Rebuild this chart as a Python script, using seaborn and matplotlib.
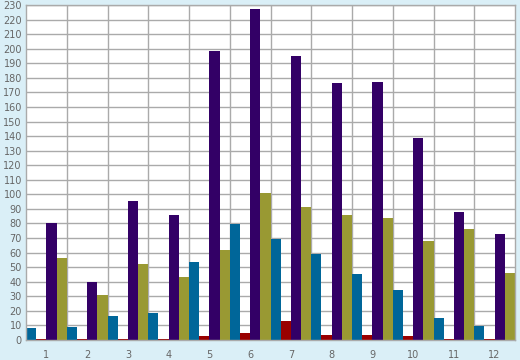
import numpy as np
import pandas as pd
import matplotlib
matplotlib.use("Agg")
import matplotlib.pyplot as plt
import seaborn as sns

categories = ["1", "2", "3", "4", "5", "6", "7", "8", "9", "10", "11", "12"]
series_names = ["S1", "S2", "S3", "S4"]
s1_blue = [8.4, 9.2, 16.7, 18.8, 53.6, 79.9, 69.6, 59.3, 45.3, 34.3, 15.1, 9.8]
s2_red = [0.6, 0.6, 0.6, 0.6, 3.0, 4.8, 13.0, 3.7, 3.7, 3.0, 0.6, 0.6]
s3_purple = [80.5, 40.0, 95.7, 86.0, 198.4, 227.3, 195.0, 176.5, 177.1, 138.9, 87.9, 72.8]
s4_olive = [56.5, 31.0, 52.4, 43.5, 61.8, 100.9, 91.3, 86.0, 83.8, 68.0, 76.2, 46.0]
colors = ["#006699", "#990000", "#330066", "#999933"]

rows = []
for name, vals in zip(series_names, [s1_blue, s2_red, s3_purple, s4_olive]):
    for c, v in zip(categories, vals):
        rows.append({"cat": c, "series": name, "value": v})
df = pd.DataFrame(rows)

sns.set_style("white")
plt.rcParams['font.family'] = ['DejaVu Sans']

fig = plt.figure(figsize=(5.2, 3.6), dpi=100)
fig.patch.set_facecolor("#DAEFF7")
ax = fig.add_axes([26/520, 20/360, 489/520, 335/360])
ax.set_facecolor("white")

sns.barplot(data=df, x="cat", y="value", hue="series", order=categories,
            hue_order=series_names, palette=colors, width=1.0, gap=0,
            saturation=1, linewidth=0, errorbar=None, legend=False, ax=ax)

gridc = "#AAAAAA"
ax.set_xlim(-0.5, len(categories) - 0.5)
ax.set_ylim(0, 230)
ax.set_yticks(np.arange(0, 231, 10))
ax.set_xticks(np.arange(len(categories)))
ax.set_xticklabels(categories)
ax.set_xticks(np.arange(len(categories) - 1) + 0.5, minor=True)
ax.tick_params(axis="x", which="major", length=0, pad=7, labelsize=7, labelcolor="#666666")
ax.tick_params(axis="x", which="minor", length=5, width=1, color=gridc)
ax.tick_params(axis="y", which="major", length=2, width=1, color=gridc, pad=1,
               labelsize=7, labelcolor="#666666")
ax.grid(True, axis="y", which="major", color=gridc, linewidth=1)
ax.grid(True, axis="x", which="minor", color=gridc, linewidth=1)
ax.set_axisbelow(True)
for sp in ax.spines.values():
    sp.set_color(gridc)
    sp.set_linewidth(1)
    sp.set_visible(True)
ax.set_xlabel("")
ax.set_ylabel("")

fig.savefig("out.png", dpi=100, facecolor=fig.get_facecolor())
